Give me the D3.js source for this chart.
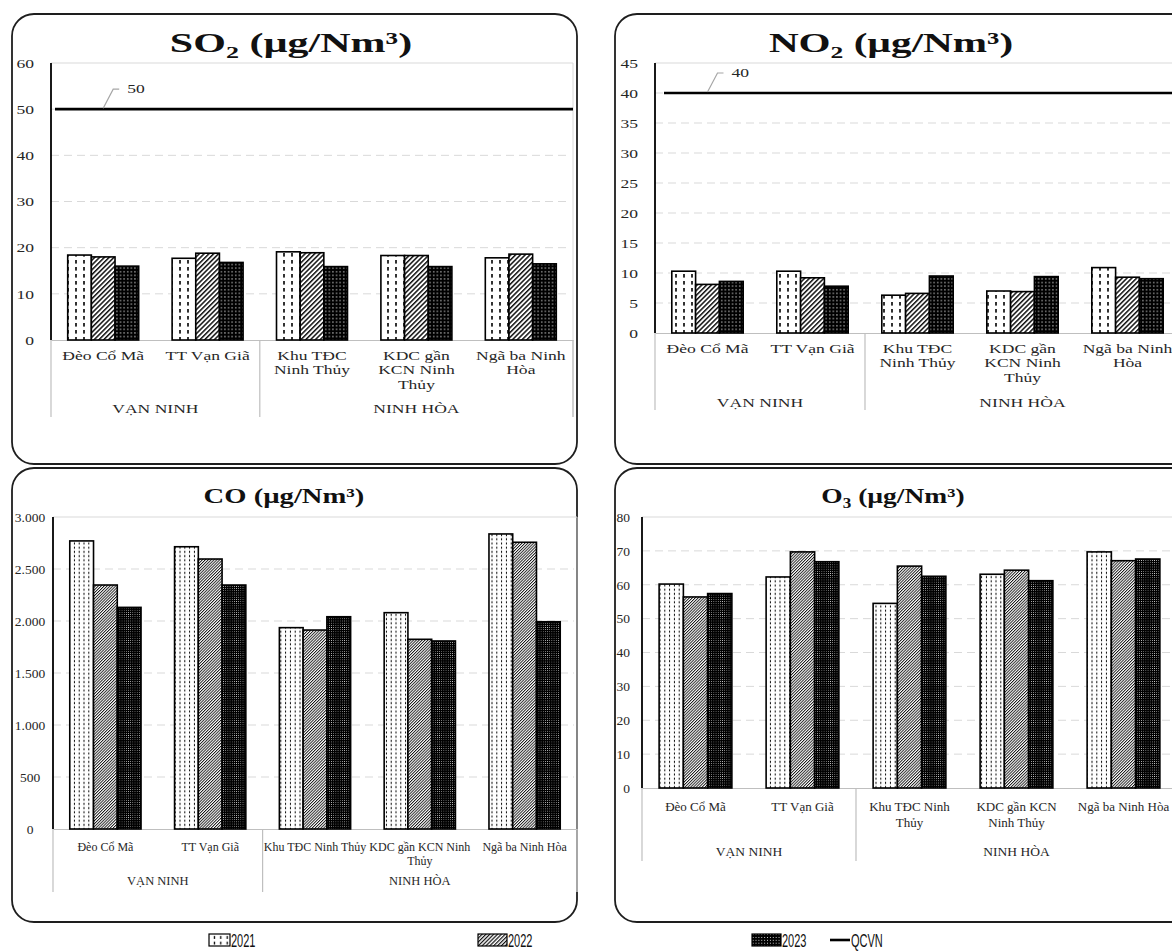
<!DOCTYPE html>
<html><head><meta charset="utf-8">
<script src="https://cdn.jsdelivr.net/npm/d3@7"></script>
<style>body{margin:0;background:#fff;} svg{display:block;}</style>
</head><body>
<svg id="c" width="1172" height="951"></svg>
<script>
// ---------- DATA ----------
const categories = ["Đèo Cổ Mã", "TT Vạn Giã", "Khu TĐC Ninh Thủy", "KDC gần KCN Ninh Thủy", "Ngã ba Ninh Hòa"];
const groupNames = ["VẠN NINH", "NINH HÒA"];
const groupSizes = [2, 3];
const years = ["2021", "2022", "2023"];

const so2_2021 = [18.4, 17.7, 19.1, 18.3, 17.8];
const so2_2022 = [18.0, 18.8, 18.9, 18.3, 18.6];
const so2_2023 = [16.0, 16.8, 15.9, 15.9, 16.5];
const so2_qcvn = 50;

const no2_2021 = [10.3, 10.3, 6.3, 7.0, 10.9];
const no2_2022 = [8.1, 9.2, 6.6, 6.9, 9.3];
const no2_2023 = [8.6, 7.8, 9.5, 9.4, 9.05];
const no2_qcvn = 40;

const co_2021 = [2770, 2714, 1936, 2080, 2837];
const co_2022 = [2346, 2596, 1913, 1824, 2757];
const co_2023 = [2131, 2346, 2041, 1808, 1993];

const o3_2021 = [60.2, 62.3, 54.5, 63.1, 69.7];
const o3_2022 = [56.4, 69.7, 65.5, 64.3, 67.1];
const o3_2023 = [57.4, 66.8, 62.5, 61.2, 67.6];

const so2Ticks = [0, 10, 20, 30, 40, 50, 60];
const no2Ticks = [0, 5, 10, 15, 20, 25, 30, 35, 40, 45];
const coTicks = [0, 500, 1000, 1500, 2000, 2500, 3000];
const o3Ticks = [0, 10, 20, 30, 40, 50, 60, 70, 80];

// category label line breaks as printed in each panel
const labelsTop = [["Đèo Cổ Mã"], ["TT Vạn Giã"], ["Khu  TĐC", "Ninh  Thủy"], ["KDC gần", "KCN Ninh", "Thủy"], ["Ngã ba Ninh", "Hòa"]];
const labelsCO = [["Đèo Cổ Mã"], ["TT Vạn Giã"], ["Khu TĐC Ninh  Thủy"], ["KDC gần KCN Ninh", "Thủy"], ["Ngã ba Ninh Hòa"]];
const labelsO3 = [["Đèo Cổ Mã"], ["TT Vạn Giã"], ["Khu TĐC Ninh", "Thủy"], ["KDC gần KCN", "Ninh Thủy"], ["Ngã ba Ninh Hòa"]];

const legendLabels = ["2021", "2022", "2023", "QCVN"];

// ---------- RENDER ----------
const svg = d3.select("#c");
const defs = svg.append("defs");
const SERIF = "'Liberation Serif','Times New Roman',serif";

function makePatterns(suffix, s) {
  // 2021: white with vertical dashes
  let p = defs.append("pattern").attr("id", "p2021" + suffix).attr("patternUnits", "userSpaceOnUse")
    .attr("width", 8 * s).attr("height", 7 * s);
  p.append("rect").attr("width", 8 * s).attr("height", 7 * s).attr("fill", "#fff");
  p.append("rect").attr("x", 3.2 * s).attr("y", 1 * s).attr("width", 1.6 * s).attr("height", 3.6 * s).attr("fill", "#000");
  // 2022: diagonal hatch
  p = defs.append("pattern").attr("id", "p2022" + suffix).attr("patternUnits", "userSpaceOnUse")
    .attr("width", 3.4 * s).attr("height", 3.4 * s).attr("patternTransform", "rotate(45)");
  p.append("rect").attr("width", 3.4 * s).attr("height", 3.4 * s).attr("fill", "#fff");
  p.append("rect").attr("x", 0).attr("y", 0).attr("width", 1.5 * s).attr("height", 3.4 * s).attr("fill", "#111");
  // 2023: black with white dots
  p = defs.append("pattern").attr("id", "p2023" + suffix).attr("patternUnits", "userSpaceOnUse")
    .attr("width", 3.6 * s).attr("height", 3.6 * s);
  p.append("rect").attr("width", 3.6 * s).attr("height", 3.6 * s).attr("fill", "#000");
  p.append("rect").attr("x", 1.2 * s).attr("y", 1.2 * s).attr("width", 1.1 * s).attr("height", 1.1 * s).attr("fill", "#fff");
}
makePatterns("t", 1);
makePatterns("b", 0.6);
makePatterns("l", 0.8);

const fmtDot = d3.formatLocale({decimal: ",", thousands: ".", grouping: [3], currency: ["", ""]}).format(",");

const panels = [
  {title: "SO", sub: "2", values: [so2_2021, so2_2022, so2_2023], ticks: so2Ticks, fmt: d3.format("d"), qcvn: so2_qcvn,
   box: {x: 12, y: 14, w: 565, h: 450}, plot: {l: 51, t: 63, r: 573, b: 340},
   titleX: 291, titleY: 52, titleSize: 28, titleSx: 1.5,
   fs: 13, sx: 1.35, tickX: 34, tickAnchor: "end", labels: labelsTop, labelY: 360, lineH: 14.5,
   groupY: 413, sepB: 417, qStart: 4, patt: "t"},
  {title: "NO", sub: "2", values: [no2_2021, no2_2022, no2_2023], ticks: no2Ticks, fmt: d3.format("d"), qcvn: no2_qcvn,
   box: {x: 615, y: 14, w: 620, h: 450}, plot: {l: 655, t: 63, r: 1180, b: 333},
   titleX: 891, titleY: 52, titleSize: 28, titleSx: 1.47,
   fs: 13, sx: 1.35, tickX: 638, tickAnchor: "end", labels: labelsTop, labelY: 353, lineH: 14.5,
   groupY: 407, sepB: 410, qStart: 9, patt: "t"},
  {title: "CO", sub: null, values: [co_2021, co_2022, co_2023], ticks: coTicks, fmt: fmtDot, qcvn: null,
   box: {x: 12, y: 468, w: 565, h: 454}, plot: {l: 53, t: 517, r: 577, b: 829},
   titleX: 284, titleY: 503, titleSize: 22, titleSx: 1.3,
   fs: 13.5, sx: 1, tickX: 30, tickAnchor: "middle", labels: labelsCO, labelY: 851, lineH: 13.5, lfs: 12,
   groupY: 885, sepB: 892, qStart: 0, patt: "b"},
  {title: "O", sub: "3", values: [o3_2021, o3_2022, o3_2023], ticks: o3Ticks, fmt: d3.format("d"), qcvn: null,
   box: {x: 615, y: 468, w: 620, h: 454}, plot: {l: 642, t: 517, r: 1177, b: 788},
   titleX: 893, titleY: 503, titleSize: 22, titleSx: 1.25,
   fs: 13.5, sx: 1, tickX: 630, tickAnchor: "end", labels: labelsO3, labelY: 811, lineH: 16, lfs: 13,
   groupY: 856, sepB: 861, qStart: 0, patt: "b"}
];

function drawPanel(p) {
  const g = svg.append("g");
  g.append("rect").attr("x", p.box.x).attr("y", p.box.y).attr("width", p.box.w).attr("height", p.box.h)
    .attr("rx", 22).attr("ry", 22).attr("fill", "#fff").attr("stroke", "#1e1e1e").attr("stroke-width", 1.8);

  const x0 = d3.scaleBand().domain(categories).range([p.plot.l, p.plot.r]);
  const inner = x0.bandwidth() * 0.68;
  const x1 = d3.scaleBand().domain(years).range([0, inner]);
  const yMax = d3.max(p.ticks);
  const y = d3.scaleLinear().domain([0, yMax]).range([p.plot.b, p.plot.t]);

  // title
  const tt = g.append("text").attr("transform", `translate(${p.titleX},${p.titleY}) scale(${p.titleSx},1)`)
    .attr("text-anchor", "middle").attr("font-family", SERIF).attr("font-weight", "bold")
    .attr("font-size", p.titleSize).attr("fill", "#111");
  tt.append("tspan").text(p.title);
  if (p.sub) tt.append("tspan").attr("font-size", p.titleSize * 0.62).attr("dy", p.titleSize * 0.22).text(p.sub);
  tt.append("tspan").attr("dy", p.sub ? -p.titleSize * 0.22 : 0).text(" (µg/Nm³)");

  // gridlines
  g.selectAll(null).data(p.ticks.filter(t => t > 0 && t < yMax)).join("line")
    .attr("x1", p.plot.l).attr("x2", p.plot.r - 3).attr("y1", d => y(d)).attr("y2", d => y(d))
    .attr("stroke", "#d9d9d9").attr("stroke-width", 1).attr("stroke-dasharray", "8,5");
  // plot border top/right
  g.append("path").attr("d", `M${p.plot.l},${p.plot.t}H${p.plot.r}V${p.sepB}`)
    .attr("fill", "none").attr("stroke", "#d9d9d9").attr("stroke-width", 1);

  // y axis labels
  const ya = g.append("g").attr("transform", `translate(${p.tickX},0)`)
    .call(d3.axisLeft(y).tickValues(p.ticks).tickFormat(p.fmt).tickSize(0).tickPadding(0));
  ya.select(".domain").remove();
  ya.attr("font-family", SERIF);
  ya.selectAll("text").attr("font-family", SERIF).attr("font-size", p.fs).attr("fill", "#262626")
    .attr("text-anchor", p.tickAnchor).attr("x", 0).attr("transform", `scale(${p.sx},1)`);

  // x axis with multi-line labels
  const xa = g.append("g").attr("transform", `translate(0,${p.plot.b})`)
    .call(d3.axisBottom(x0).tickSize(0).tickSizeOuter(0).tickFormat(""));
  xa.attr("font-family", SERIF);
  xa.select(".domain").attr("stroke", "#bfbfbf").attr("stroke-width", 1.2);
  xa.selectAll(".tick text").remove();
  xa.selectAll(".tick").each(function (c, i) {
    const t = d3.select(this).append("text").attr("text-anchor", "middle")
      .attr("font-family", SERIF).attr("font-size", p.lfs || p.fs).attr("fill", "#262626")
      .attr("transform", `translate(0,${p.labelY - p.plot.b}) scale(${p.sx},1)`);
    p.labels[i].forEach((ln, k) => t.append("tspan").attr("x", 0).attr("y", k * p.lineH).text(ln));
  });

  // group separators and labels
  let start = 0;
  const seps = [p.plot.l];
  groupSizes.forEach((n, gi) => {
    const a = x0(categories[start]), b = x0(categories[start + n - 1]) + x0.bandwidth();
    seps.push(b);
    g.append("text").attr("transform", `translate(${(a + b) / 2},${p.groupY}) scale(${p.sx},1)`)
      .attr("text-anchor", "middle").attr("font-family", SERIF).attr("font-size", p.lfs ? p.lfs + 0.5 : p.fs)
      .attr("fill", "#262626").text(groupNames[gi]);
    start += n;
  });
  g.selectAll(null).data(seps).join("line").attr("x1", d => d).attr("x2", d => d)
    .attr("y1", p.plot.b).attr("y2", p.sepB).attr("stroke", "#bfbfbf").attr("stroke-width", 1.2);

  // bars
  years.forEach((yr, si) => {
    g.selectAll(null).data(categories).join("rect")
      .attr("x", c => x0(c) + (x0.bandwidth() - inner) / 2 + x1(yr))
      .attr("width", x1.bandwidth())
      .attr("y", (c, ci) => y(p.values[si][ci]))
      .attr("height", (c, ci) => p.plot.b - y(p.values[si][ci]))
      .attr("fill", `url(#p${yr}${p.patt})`).attr("stroke", "#000").attr("stroke-width", 1.6);
  });

  // left axis line
  g.append("line").attr("x1", p.plot.l).attr("x2", p.plot.l).attr("y1", p.plot.t).attr("y2", p.plot.b)
    .attr("stroke", "#000").attr("stroke-width", 1.8);

  // QCVN line + leader label
  if (p.qcvn != null) {
    const qy = y(p.qcvn);
    g.append("line").attr("x1", p.plot.l + p.qStart).attr("x2", p.plot.r).attr("y1", qy).attr("y2", qy)
      .attr("stroke", "#000").attr("stroke-width", 2.6);
    const cx = x0(categories[0]) + x0.bandwidth() / 2;
    g.append("path").attr("d", `M${cx},${qy - 1}L${cx + 10},${qy - 20}H${cx + 16}`)
      .attr("fill", "none").attr("stroke", "#a6a6a6").attr("stroke-width", 1.2);
    g.append("text").attr("transform", `translate(${cx + 24},${qy - 16}) scale(${p.sx},1)`)
      .attr("font-family", SERIF).attr("font-size", p.fs).attr("fill", "#262626").text(p.qcvn);
  }
}
panels.forEach(drawPanel);

// legend
const legendX = [209, 478, 752, 830];
const LEG_FONT = "'Liberation Sans','Arial',sans-serif";
const lg = svg.append("g");
legendLabels.forEach((lab, i) => {
  const x = legendX[i], yc = 940;
  if (i < 3) {
    lg.append("rect").attr("x", x).attr("y", yc - 6).attr("width", i === 0 ? 21 : 29).attr("height", 12)
      .attr("fill", `url(#p${lab}l)`).attr("stroke", "#000").attr("stroke-width", 1.2);
  } else {
    lg.append("line").attr("x1", x).attr("x2", x + 20).attr("y1", yc).attr("y2", yc)
      .attr("stroke", "#000").attr("stroke-width", 2.6);
  }
  const tx = x + (i === 0 ? 22 : (i < 3 ? 30 : 21));
  lg.append("text").attr("transform", `translate(${tx},${yc + 6.5}) scale(0.58,1)`)
    .attr("font-family", LEG_FONT).attr("font-size", 19).attr("fill", "#111").text(lab);
});
</script>
</body></html>
